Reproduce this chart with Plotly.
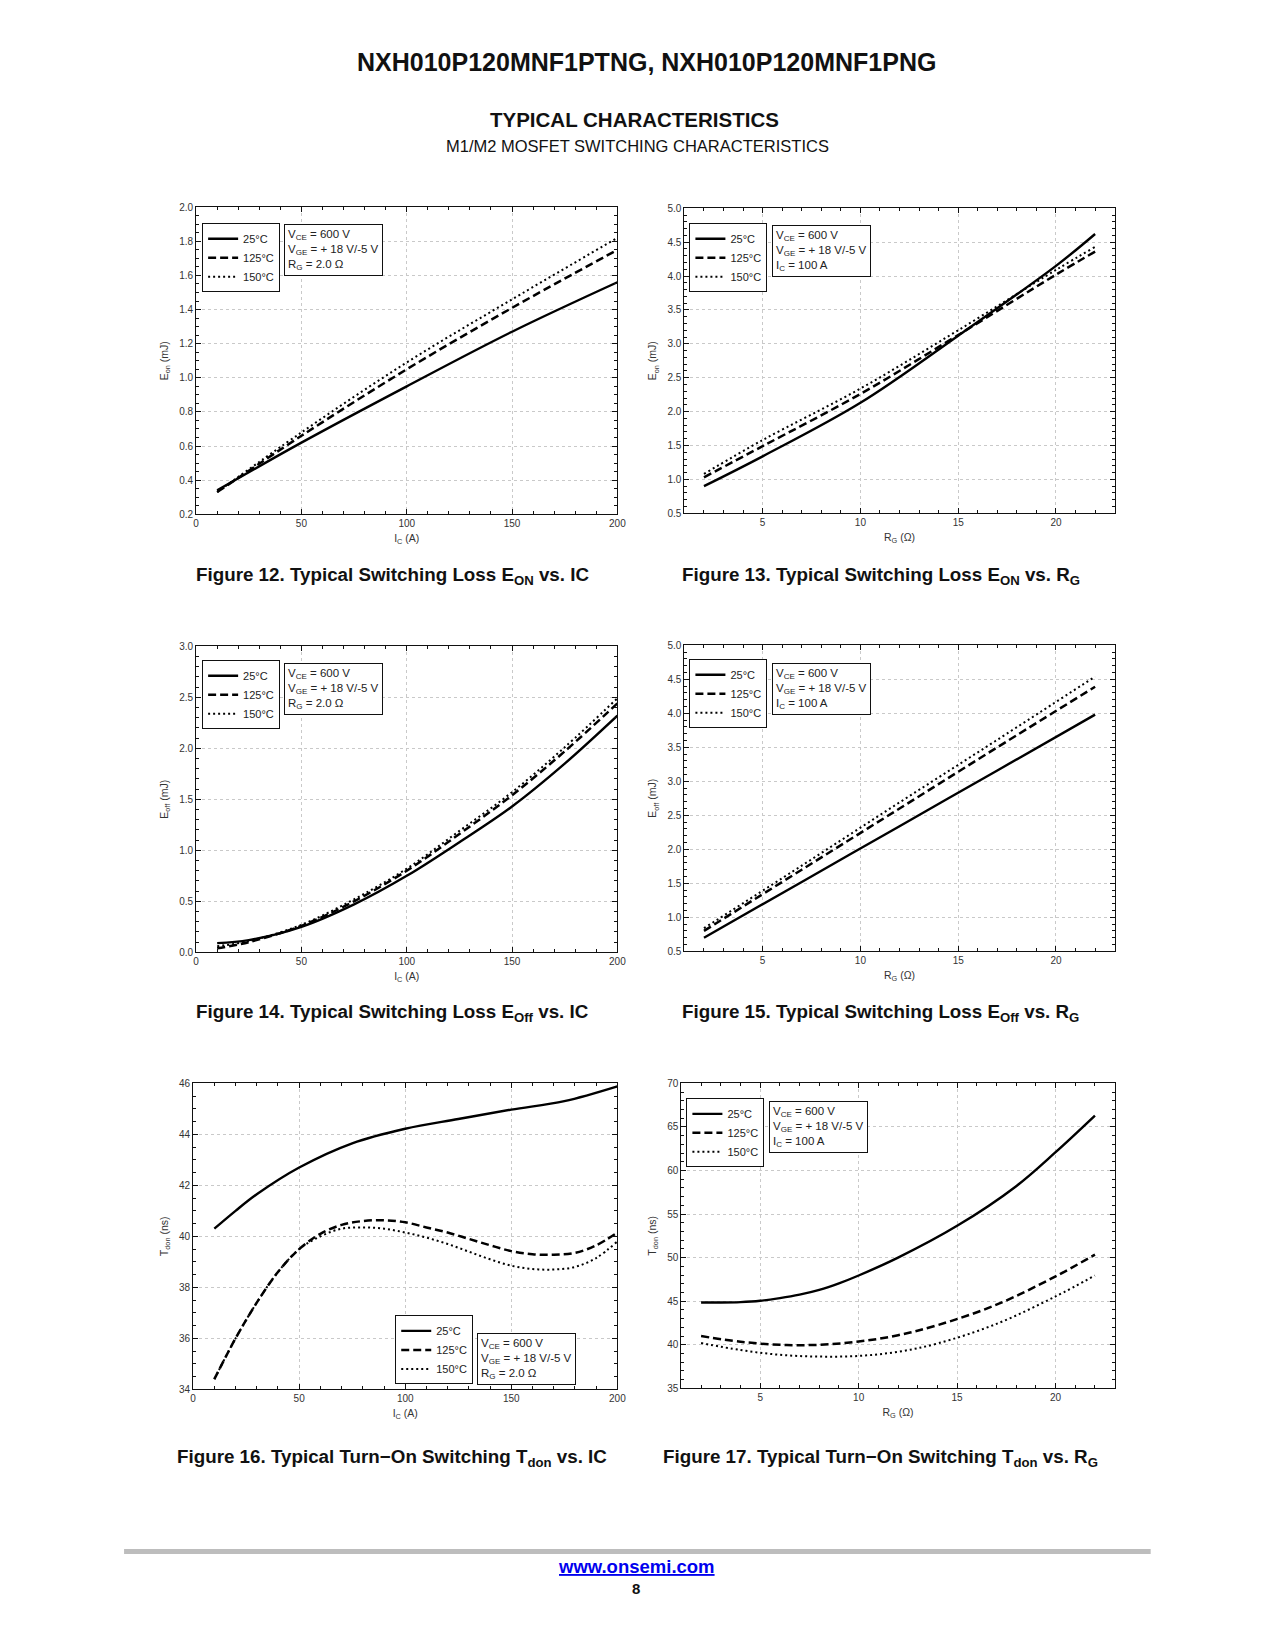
import plotly.graph_objects as go

W, H = 1275, 1650

# ---------------- data ----------------
series_names = ["25°C", "125°C", "150°C"]

# Figure 12: Eon vs Ic
f12_x = [10, 50, 100, 150, 200]
f12_25 = [0.34, 0.62, 0.95, 1.27, 1.56]
f12_125 = [0.33, 0.66, 1.05, 1.41, 1.75]
f12_150 = [0.33, 0.68, 1.09, 1.46, 1.82]

# Figure 13: Eon vs Rg
f13_x = [2, 5, 10, 15, 20, 22]
f13_25 = [0.90, 1.34, 2.13, 3.12, 4.15, 4.62]
f13_125 = [1.03, 1.49, 2.26, 3.13, 4.02, 4.36]
f13_150 = [1.08, 1.58, 2.34, 3.20, 4.09, 4.43]

# Figure 14: Eoff vs Ic
f14_x = [10, 25, 50, 75, 100, 125, 150, 175, 200]
f14_25 = [0.09, 0.12, 0.25, 0.47, 0.75, 1.08, 1.43, 1.85, 2.32]
f14_125 = [0.04, 0.10, 0.26, 0.50, 0.80, 1.16, 1.54, 1.97, 2.44]
f14_150 = [0.06, 0.11, 0.27, 0.52, 0.82, 1.19, 1.57, 2.01, 2.49]

# Figure 15: Eoff vs Rg
f15_x = [2, 7, 12, 17, 22]
f15_25 = [0.70, 1.52, 2.34, 3.16, 3.98]
f15_125 = [0.80, 1.70, 2.60, 3.50, 4.39]
f15_150 = [0.84, 1.76, 2.69, 3.61, 4.54]

# Figure 16: Tdon vs Ic
f16_x25 = [10, 20, 30, 50, 75, 100, 125, 150, 175, 200]
f16_25 = [40.3, 41.0, 41.65, 42.7, 43.65, 44.22, 44.6, 44.97, 45.3, 45.88]
f16_x = [10, 20, 30, 40, 50, 60, 70, 80, 90, 100, 110, 120, 130, 140, 150, 160, 170, 180, 190, 200]
f16_125 = [34.4, 36.0, 37.4, 38.6, 39.5, 40.1, 40.45, 40.6, 40.63, 40.55, 40.35, 40.15, 39.9, 39.65,
           39.42, 39.3, 39.28, 39.35, 39.65, 40.15]
f16_150 = [34.4, 36.0, 37.4, 38.6, 39.5, 40.0, 40.3, 40.35, 40.3, 40.15, 39.95, 39.7, 39.4, 39.1,
           38.85, 38.72, 38.7, 38.8, 39.15, 39.8]

# Figure 17: Tdon vs Rg
f17_x25 = [2, 3, 4, 5, 6, 7, 8, 9, 10, 12, 15, 18, 20, 22]
f17_25 = [44.85, 44.85, 44.9, 45.05, 45.35, 45.75, 46.3, 47.05, 47.95, 50.0, 53.65, 58.2, 62.1, 66.3]
f17_x = [2, 4, 6, 8, 10, 12, 14, 17, 20, 22]
f17_125 = [41.0, 40.35, 40.0, 40.0, 40.37, 41.1, 42.25, 44.6, 47.85, 50.35]
f17_150 = [40.2, 39.4, 38.85, 38.65, 38.72, 39.2, 40.15, 42.4, 45.55, 47.95]

# text
page_title = "NXH010P120MNF1PTNG, NXH010P120MNF1PNG"
section_title = "TYPICAL CHARACTERISTICS"
section_sub = "M1/M2 MOSFET SWITCHING CHARACTERISTICS"
captions = [
    "Figure 12. Typical Switching Loss E<sub>ON</sub> vs. IC",
    "Figure 13. Typical Switching Loss E<sub>ON</sub> vs. R<sub>G</sub>",
    "Figure 14. Typical Switching Loss E<sub>Off</sub> vs. IC",
    "Figure 15. Typical Switching Loss E<sub>Off</sub> vs. R<sub>G</sub>",
    "Figure 16. Typical Turn\u2212On Switching T<sub>don</sub> vs. IC",
    "Figure 17. Typical Turn\u2212On Switching T<sub>don</sub> vs. R<sub>G</sub>",
]
cond_ic = "V<sub>CE</sub> = 600 V<br>V<sub>GE</sub> = + 18 V/-5 V<br>R<sub>G</sub> = 2.0 Ω"
cond_rg = "V<sub>CE</sub> = 600 V<br>V<sub>GE</sub> = + 18 V/-5 V<br>I<sub>C</sub> = 100 A"
xt_ic = "I<sub>C</sub> (A)"
xt_rg = "R<sub>G</sub> (Ω)"

# ---------------- layout geometry (target page pixels) ----------------
plots = [
    dict(px=(196, 617), py=(206, 513), xr=[0, 200], xd=50, xm=10, yr=[0.2, 2.0], yd=0.2, ym=0.05, fmt=".1f",
         xt=xt_ic, yt="E<sub>on</sub> (mJ)", data=[(f12_x, f12_25), (f12_x, f12_125), (f12_x, f12_150)],
         leg=(202, 222, "top"), cond=(284, 223), ctext=cond_ic, cap=(392, 575)),
    dict(px=(684, 1114), py=(207, 512), xr=[1, 23], xd=5, xm=1, yr=[0.5, 5.0], yd=0.5, ym=0.1, fmt=".1f",
         xt=xt_rg, yt="E<sub>on</sub> (mJ)", data=[(f13_x, f13_25), (f13_x, f13_125), (f13_x, f13_150)],
         leg=(689, 222, "top"), cond=(772, 224), ctext=cond_rg, cap=(880, 575)),
    dict(px=(196, 617), py=(645, 951), xr=[0, 200], xd=50, xm=10, yr=[0.0, 3.0], yd=0.5, ym=0.1, fmt=".1f",
         xt=xt_ic, yt="E<sub>off</sub> (mJ)", data=[(f14_x, f14_25), (f14_x, f14_125), (f14_x, f14_150)],
         leg=(202, 659, "top"), cond=(284, 662), ctext=cond_ic, cap=(392, 1012)),
    dict(px=(684, 1114), py=(644, 950), xr=[1, 23], xd=5, xm=1, yr=[0.5, 5.0], yd=0.5, ym=0.1, fmt=".1f",
         xt=xt_rg, yt="E<sub>off</sub> (mJ)", data=[(f15_x, f15_25), (f15_x, f15_125), (f15_x, f15_150)],
         leg=(689, 658, "top"), cond=(772, 662), ctext=cond_rg, cap=(880, 1012)),
    dict(px=(193, 617), py=(1082, 1388), xr=[0, 200], xd=50, xm=10, yr=[34, 46], yd=2, ym=0.5, fmt="d",
         xt=xt_ic, yt="T<sub>don</sub> (ns)", data=[(f16_x25, f16_25), (f16_x, f16_125), (f16_x, f16_150)],
         leg=(395, 1383, "bottom"), cond=(477, 1332), ctext=cond_ic, cap=(392, 1457)),
    dict(px=(681, 1114), py=(1082, 1387), xr=[1, 23], xd=5, xm=1, yr=[35, 70], yd=5, ym=1, fmt="d",
         xt=xt_rg, yt="T<sub>don</sub> (ns)", data=[(f17_x25, f17_25), (f17_x, f17_125), (f17_x, f17_150)],
         leg=(686, 1097, "top"), cond=(769, 1100), ctext=cond_rg, cap=(880, 1457)),
]

FONT = "Arial, Liberation Sans, Helvetica, sans-serif"
styles = [dict(dash="solid", width=2.4), dict(dash="8px,4px", width=2.5), dict(dash="2px,3px", width=2.0)]

# calibration of the page capture (measured: captured = offset + scale * layout px)
CAL_AX, CAL_SX = 3.0, 0.990
CAL_AY, CAL_SY = 4.8, 0.9926


def px2x(v):
    return ((v - CAL_AX) / CAL_SX) / W


def py2y(v):
    return 1 - ((v - CAL_AY) / CAL_SY) / H


fig = go.Figure()
layout = dict(
    width=W, height=H, margin=dict(l=0, r=0, t=0, b=0),
    paper_bgcolor="white", plot_bgcolor="white",
    font=dict(family=FONT, color="#222"),
    showlegend=True,
    annotations=[], shapes=[],
)

for i, p in enumerate(plots, start=1):
    sfx = "" if i == 1 else str(i)
    legname = "legend" + sfx
    for k, (xs, ys) in enumerate(p["data"]):
        fig.add_trace(go.Scatter(
            x=xs, y=ys, mode="lines", name=series_names[k],
            line=dict(color="black", shape="spline", smoothing=1.0, **styles[k]),
            xaxis="x" + sfx, yaxis="y" + sfx, legend=legname, hoverinfo="x+y",
        ))
    axcommon = dict(
        showline=True, linecolor="#111", linewidth=1, mirror="allticks",
        ticks="inside", ticklen=5, tickcolor="#111", tickwidth=1,
        showgrid=True, gridcolor="#c9c9c9", griddash="dot", gridwidth=1,
        zeroline=False, tickfont=dict(size=10, color="#333", family=FONT),
        title_font=dict(size=10.5, color="#333", family=FONT),
    )
    layout["xaxis" + sfx] = dict(
        axcommon, domain=[px2x(p["px"][0]), px2x(p["px"][1])], range=p["xr"],
        anchor="y" + sfx, dtick=p["xd"], tick0=0,
        minor=dict(ticks="inside", ticklen=3, tickcolor="#111", dtick=p["xm"], tick0=0, showgrid=False),
        title=dict(text=p["xt"], standoff=6),
    )
    layout["yaxis" + sfx] = dict(
        axcommon, domain=[py2y(p["py"][1]), py2y(p["py"][0])], range=p["yr"],
        anchor="x" + sfx, dtick=p["yd"], tick0=0, tickformat=p["fmt"],
        minor=dict(ticks="inside", ticklen=3, tickcolor="#111", dtick=p["ym"], tick0=0, showgrid=False),
        title=dict(text=p["yt"], standoff=8),
    )
    layout[legname] = dict(
        x=px2x(p["leg"][0]), y=py2y(p["leg"][1]), xanchor="left", yanchor=p["leg"][2],
        xref="paper", yref="paper",
        bgcolor="white", bordercolor="#111", borderwidth=1,
        font=dict(size=11, color="#222", family=FONT), itemwidth=30, tracegroupgap=0,
    )
    layout["annotations"].append(dict(
        text=p["ctext"], xref="paper", yref="paper",
        x=px2x(p["cond"][0]), y=py2y(p["cond"][1]), xanchor="left", yanchor="top",
        showarrow=False, align="left", bordercolor="#111", borderwidth=1, borderpad=3,
        bgcolor="white", font=dict(size=11.5, color="#222", family=FONT),
    ))
    layout["annotations"].append(dict(
        text="<b>" + captions[i - 1] + "</b>", xref="paper", yref="paper",
        x=px2x(p["cap"][0]), y=py2y(p["cap"][1]), xanchor="center", yanchor="middle",
        showarrow=False, font=dict(size=18.8, color="#111", family=FONT),
    ))

# page headings
layout["annotations"] += [
    dict(text="<b>" + page_title + "</b>", xref="paper", yref="paper", x=px2x(646), y=py2y(61),
         xanchor="center", yanchor="middle", showarrow=False, font=dict(size=25, color="#111", family=FONT)),
    dict(text="<b>" + section_title + "</b>", xref="paper", yref="paper", x=px2x(634), y=py2y(118),
         xanchor="center", yanchor="middle", showarrow=False, font=dict(size=20.5, color="#111", family=FONT)),
    dict(text=section_sub, xref="paper", yref="paper", x=px2x(637), y=py2y(145),
         xanchor="center", yanchor="middle", showarrow=False, font=dict(size=16.5, color="#111", family=FONT)),
    dict(text="<b><u>www.onsemi.com</u></b>", xref="paper", yref="paper", x=px2x(636), y=py2y(1565),
         xanchor="center", yanchor="middle", showarrow=False, font=dict(size=18.5, color="#0000ee", family=FONT)),
    dict(text="<b>8</b>", xref="paper", yref="paper", x=px2x(636), y=py2y(1587),
         xanchor="center", yanchor="middle", showarrow=False, font=dict(size=15, color="#111", family=FONT)),
]
layout["shapes"].append(dict(
    type="line", xref="paper", yref="paper", x0=px2x(124), x1=px2x(1150), y0=py2y(1550), y1=py2y(1550),
    line=dict(color="#bdbdbd", width=5),
))

fig.update_layout(layout)
page_css = ("var d=document.documentElement,b=document.body;"
            "d.style.margin='0';d.style.padding='0';d.style.overflow='hidden';"
            "b.style.margin='0';b.style.padding='0';b.style.overflow='hidden';")
fig.write_html("out.html", config={"displayModeBar": False}, post_script=page_css)
